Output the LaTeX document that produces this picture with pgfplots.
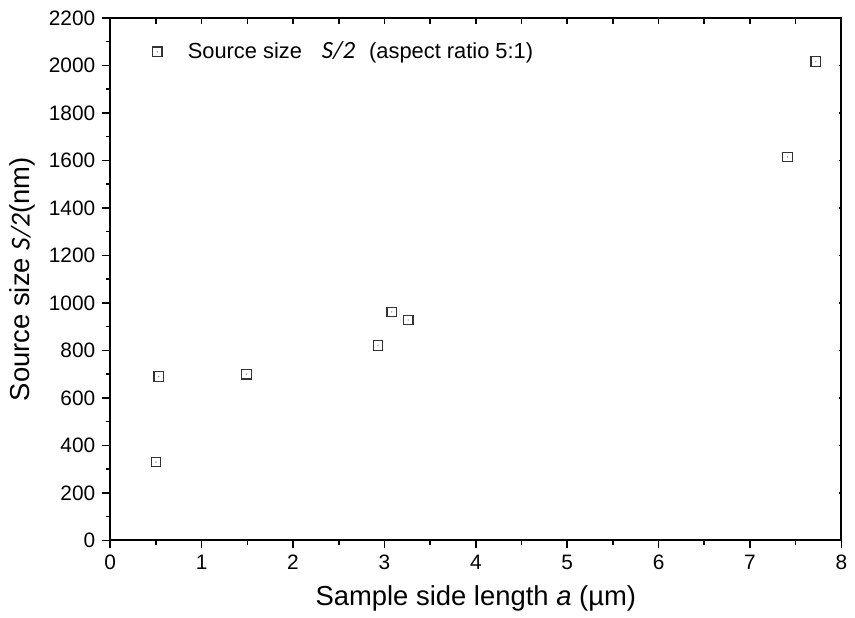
\documentclass[border=0pt]{standalone}
\usepackage{pgfplots}
\pgfplotsset{compat=1.18}
\usepackage{fontspec}
\setmainfont{Liberation Sans}
\newfontfamily\carl{Carlito}
\usetikzlibrary{calc}
\pgfdeclareplotmark{sqdot}{%
  \pgfpathrectangle{\pgfqpoint{-\pgfplotmarksize}{-\pgfplotmarksize}}{\pgfqpoint{2\pgfplotmarksize}{2\pgfplotmarksize}}%
  \pgfusepathqstroke
  \pgfpathcircle{\pgfpointorigin}{0.4pt}%
  \pgfusepathqfill}
\begin{document}
\begin{tikzpicture}
\begin{axis}[name=ax, scale only axis, width=368pt, height=263pt,
  xmin=0, xmax=8, ymin=0, ymax=2200,
  xtick={0,1,...,8}, ytick={0,200,...,2200},
  minor x tick num=1, minor y tick num=1,
  tick align=outside, xtick pos=bottom, ytick pos=left,
  major tick length=4pt, minor tick length=2.2pt,
  axis line style={line width=1pt},
  every tick/.style={black, line width=0.8pt},
  tick label style={font=\fontsize{10.5}{12}\selectfont},
  /pgf/number format/assume math mode=true,
  /pgf/number format/set thousands separator={},
  xlabel={Sample side length \textit{a} (µm)},
  ylabel={Source size {\carl\itshape S/2}(nm)},
  label style={font=\fontsize{13.8}{16}\selectfont},
  xlabel style={yshift=-1pt},
  legend style={draw=none, fill=none, at={(0.049,0.935)}, anchor=west,
    font=\fontsize{11}{13}\selectfont,
    /tikz/every odd column/.append style={column sep=11pt}},
  legend cell align=left,
]
\addplot[only marks, mark=sqdot, mark size=2.4pt,
  mark options={draw=black!80, fill=black!45, line width=0.6pt}]
  coordinates {(0.50,330) (0.53,690) (1.49,700) (2.93,820) (3.08,962) (3.26,928) (7.41,1614) (7.72,2016)};
\addlegendentry{Source size\hspace{10pt}{\carl\itshape\fontsize{12.5}{13}\selectfont S/2}\hspace{7pt}(aspect ratio 5:1)}
\end{axis}
\begin{axis}[at={(ax.south west)}, anchor=south west, scale only axis, width=368pt, height=263pt,
  xmin=0, xmax=8, ymin=0, ymax=2200,
  xtick={0,1,...,8}, ytick=\empty, minor x tick num=1,
  tick align=inside, xtick pos=top, xticklabels={},
  major tick length=3pt, minor tick length=3pt,
  axis line style={line width=1pt},
  every tick/.style={black, line width=0.8pt}]
\end{axis}
\begin{axis}[at={(ax.south west)}, anchor=south west, scale only axis, width=368pt, height=263pt,
  xmin=0, xmax=8, ymin=0, ymax=2200,
  xtick=\empty, ytick={0,200,...,2200},
  tick align=inside, ytick pos=right, yticklabels={},
  major tick length=1.2pt,
  axis line style={line width=1pt},
  every tick/.style={black, line width=0.8pt}]
\end{axis}
\path ($(ax.south west)+(-55.5pt,-37.5pt)$) rectangle ($(ax.north east)+(4pt,9pt)$);
\end{tikzpicture}
\end{document}
